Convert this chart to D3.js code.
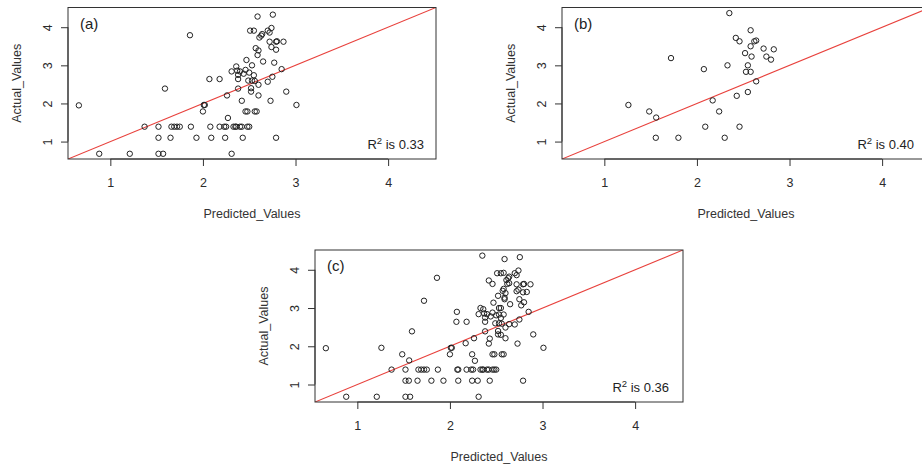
<!DOCTYPE html>
<html>
<head>
<meta charset="utf-8">
<script src="https://cdn.jsdelivr.net/npm/d3@7"></script>
<style>
  html, body { margin: 0; padding: 0; background: #fff; }
  svg { display: block; font-family: "Liberation Sans", Arial, sans-serif; }
</style>
</head>
<body>
<svg id="chart" width="922" height="466"></svg>
<script>
// Predicted vs. actual values, model (a)
const predictedA = [0.88,1.21,1.52,1.57,2.31,
  1.52,1.65,1.93,2.09,2.24,2.43,2.79,
  1.37,1.52,1.66,1.69,1.72,1.75,1.87,2.08,2.18,2.23,2.25,2.33,2.35,2.36,2.40,2.42,2.48,2.50,
  2.27,
  2.00,2.46,2.48,2.56,2.58,
  0.66,2.01,2.02,3.01,
  2.42,2.73,
  2.26,2.60,
  2.52,2.90,
  1.59,2.38,2.52,
  2.60,
  2.07,2.18,2.38,2.49,2.53,2.56,2.70,
  2.38,2.44,2.55,2.75,2.31,2.37,2.40,2.46,2.50,
  2.85,2.36,2.53,2.47,2.65,2.77,
  2.59,2.57,2.60,2.74,2.79,
  2.72,2.79,2.80,2.87,
  2.61,2.63,2.64,2.51,2.55,2.70,2.72,2.74,
  2.59,2.755,
  1.86];
const actualA = [0.68,0.68,0.68,0.68,0.68,
  1.10,1.10,1.10,1.10,1.10,1.10,1.10,
  1.39,1.39,1.39,1.39,1.39,1.39,1.39,1.39,1.39,1.39,1.39,1.39,1.39,1.39,1.39,1.39,1.39,1.39,
  1.62,
  1.79,1.79,1.79,1.79,1.79,
  1.95,1.96,1.96,1.96,
  2.07,2.07,
  2.21,2.21,
  2.31,2.31,
  2.39,2.39,2.40,
  2.49,
  2.64,2.64,2.64,2.60,2.60,2.59,2.57,
  2.75,2.78,2.74,2.70,2.84,2.86,2.84,2.88,2.81,
  2.90,2.97,3.00,3.14,3.10,3.07,
  3.27,3.45,3.39,3.48,3.41,
  3.62,3.62,3.63,3.62,
  3.73,3.78,3.82,3.91,3.91,3.91,3.86,3.98,
  4.28,4.33,
  3.79];

// Predicted vs. actual values, model (b)
const predictedB = [1.26,1.485,1.56,1.556,1.80,1.72,2.075,2.17,2.24,2.09,2.30,2.33,2.35,2.43,2.46,2.55,
  2.64,2.42,2.46,2.58,2.52,2.55,2.53,2.58,2.59,2.58,2.62,2.64,2.72,2.75,2.80,2.83];
const actualB = [1.96,1.79,1.63,1.10,1.10,3.19,2.90,2.08,1.79,1.39,1.10,3.00,4.37,2.20,1.39,2.30,
  2.58,3.72,3.63,3.92,3.32,3.00,2.83,2.83,3.23,3.50,3.63,3.65,3.44,3.23,3.15,3.42];

// Pooled set (c)
const predictedC = predictedA.concat(predictedB);
const actualC = actualA.concat(actualB);

const panelLabels = ["(a)", "(b)", "(c)"];
const r2Values = ["0.33", "0.40", "0.36"];
const tickValues = [1, 2, 3, 4];
const xTitle = "Predicted_Values";
const yTitle = "Actual_Values";

// Shared axis limits, padded 4% on each side
const lim = [0.69, 4.37];
const pad = (lim[1] - lim[0]) * 0.04;
const domain = [lim[0] - pad, lim[1] + pad];

const layout = [
  { left: 68,  right: 436, top: 7.5, bottom: 159, r2Inset: 12 },
  { left: 562, right: 930, top: 7.5, bottom: 159, r2Inset: 16 },
  { left: 315, right: 683, top: 250, bottom: 402, r2Inset: 14 }
];
const sets = [
  { px: predictedA, ay: actualA },
  { px: predictedB, ay: actualB },
  { px: predictedC, ay: actualC }
];

const svg = d3.select("#chart");
svg.append("rect").attr("width", 922).attr("height", 466).attr("fill", "#fff");

const textColor = "#2b2b2b";

layout.forEach((L, i) => {
  const x = d3.scaleLinear().domain(domain).range([L.left, L.right]);
  const y = d3.scaleLinear().domain(domain).range([L.bottom, L.top]);
  const g = svg.append("g");

  const clipId = "clip" + i;
  g.append("clipPath").attr("id", clipId).append("rect")
    .attr("x", L.left).attr("y", L.top)
    .attr("width", L.right - L.left).attr("height", L.bottom - L.top);

  // x axis
  const xa = g.append("g").attr("transform", `translate(0,${L.bottom})`)
    .call(d3.axisBottom(x).tickValues(tickValues).tickFormat(d3.format("d")).tickSize(7).tickPadding(12));
  xa.select(".domain").remove();
  xa.append("line").attr("x1", x(tickValues[0])).attr("x2", x(tickValues[tickValues.length - 1]))
    .attr("y1", 0).attr("y2", 0).attr("stroke", "#333");
  xa.selectAll(".tick line").attr("stroke", "#333");
  xa.selectAll(".tick text").attr("fill", textColor).attr("font-size", 12.5)
    .attr("font-family", "Liberation Sans, Arial, sans-serif");

  // y axis, labels parallel to the axis
  const ya = g.append("g").attr("transform", `translate(${L.left},0)`)
    .call(d3.axisLeft(y).tickValues(tickValues).tickFormat(d3.format("d")).tickSize(7));
  ya.select(".domain").remove();
  ya.append("line").attr("y1", y(tickValues[0])).attr("y2", y(tickValues[tickValues.length - 1]))
    .attr("x1", 0).attr("x2", 0).attr("stroke", "#333");
  ya.selectAll(".tick line").attr("stroke", "#333");
  ya.selectAll(".tick text")
    .attr("x", null).attr("dy", null)
    .attr("transform", "translate(-16.5,0) rotate(-90)")
    .attr("text-anchor", "middle")
    .attr("fill", textColor).attr("font-size", 12.5)
    .attr("font-family", "Liberation Sans, Arial, sans-serif");

  // axis titles
  g.append("text")
    .attr("x", (L.left + L.right) / 2).attr("y", L.bottom + 58.5)
    .attr("text-anchor", "middle").attr("font-size", 12.5).attr("fill", "#333")
    .text(xTitle);
  g.append("text")
    .attr("transform", `translate(${L.left - 47.5},${(L.top + L.bottom) / 2}) rotate(-90)`)
    .attr("text-anchor", "middle").attr("font-size", 12.5).attr("fill", "#333")
    .text(yTitle);

  // 1:1 reference line
  g.append("line")
    .attr("clip-path", `url(#${clipId})`)
    .attr("x1", x(domain[0])).attr("y1", y(domain[0]))
    .attr("x2", x(domain[1])).attr("y2", y(domain[1]))
    .attr("stroke", "#e8413c").attr("stroke-width", 1.1);

  // observations
  const pts = sets[i].px.map((v, k) => [v, sets[i].ay[k]]);
  g.append("g").selectAll("circle").data(pts).join("circle")
    .attr("cx", d => x(d[0])).attr("cy", d => y(d[1])).attr("r", 2.7)
    .attr("fill", "none").attr("stroke", "#222").attr("stroke-width", 1);

  // plot frame
  g.append("rect")
    .attr("x", L.left).attr("y", L.top)
    .attr("width", L.right - L.left).attr("height", L.bottom - L.top)
    .attr("fill", "none").attr("stroke", "#333").attr("stroke-width", 1);

  // panel tag
  g.append("text").attr("x", L.left + 12).attr("y", L.top + 21)
    .attr("font-size", 15).attr("fill", "#222").text(panelLabels[i]);

  // R squared note
  const r2 = g.append("text").attr("x", L.right - L.r2Inset).attr("y", L.bottom - 10.5)
    .attr("text-anchor", "end").attr("font-size", 13).attr("fill", "#222");
  r2.append("tspan").text("R");
  r2.append("tspan").attr("font-size", 9.5).attr("dy", -4.5).text("2");
  r2.append("tspan").attr("dy", 4.5).text(" is " + r2Values[i]);
});
</script>
</body>
</html>
